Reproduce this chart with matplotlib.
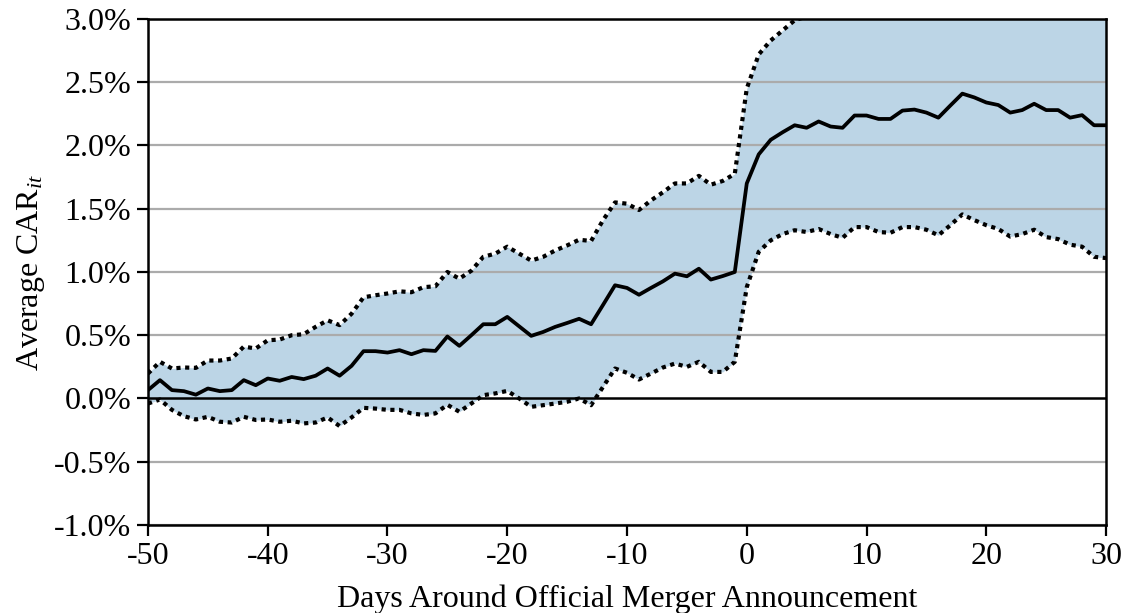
import numpy as np
import matplotlib.pyplot as plt
from matplotlib.ticker import FuncFormatter

plt.rcParams['font.family'] = ['Liberation Serif', 'DejaVu Serif']
plt.rcParams['mathtext.fontset'] = 'custom'
plt.rcParams['mathtext.rm'] = 'Liberation Serif'
plt.rcParams['mathtext.it'] = 'Liberation Serif:italic'
plt.rcParams['axes.unicode_minus'] = False

# Event window
days = list(range(-50, 31))

# Average CAR (%)
car_mean = [
    0.066, 0.145, 0.066, 0.058, 0.03, 0.079, 0.058, 0.066, 0.145, 0.105,
    0.158, 0.14, 0.17, 0.153, 0.18, 0.237, 0.18, 0.258, 0.374, 0.374,
    0.363, 0.382, 0.35, 0.382, 0.376, 0.49, 0.416, 0.5, 0.587, 0.587,
    0.645, 0.57, 0.495, 0.526, 0.566, 0.597, 0.63, 0.587, 0.74, 0.895,
    0.874, 0.82, 0.874, 0.926, 0.987, 0.966, 1.026, 0.94, 0.968, 1.0,
    1.70, 1.93, 2.045, 2.105, 2.16, 2.14, 2.19, 2.15, 2.14, 2.237,
    2.237, 2.21, 2.21, 2.276, 2.284, 2.26, 2.22, 2.316, 2.41, 2.38,
    2.34, 2.32, 2.26, 2.28, 2.33, 2.28, 2.28, 2.22, 2.24, 2.16,
    2.16,
]

# Upper confidence bound (%)
car_upper = [
    0.197, 0.29, 0.237, 0.245, 0.242, 0.30, 0.30, 0.316, 0.41, 0.395,
    0.46, 0.466, 0.50, 0.508, 0.566, 0.618, 0.58, 0.67, 0.80, 0.816,
    0.83, 0.847, 0.84, 0.88, 0.887, 1.0, 0.947, 1.01, 1.12, 1.145,
    1.20, 1.145, 1.09, 1.12, 1.17, 1.21, 1.255, 1.245, 1.41, 1.55,
    1.54, 1.49, 1.566, 1.63, 1.70, 1.70, 1.76, 1.69, 1.72, 1.776,
    2.45, 2.72, 2.83, 2.91, 2.99, 3.02, 3.04, 3.01, 3.02, 3.12,
    3.12, 3.10, 3.11, 3.20, 3.21, 3.19, 3.15, 3.26, 3.37, 3.35,
    3.31, 3.30, 3.24, 3.26, 3.33, 3.28, 3.30, 3.22, 3.28, 3.20,
    3.21,
]

# Lower confidence bound (%)
car_lower = [
    -0.04, -0.008, -0.09, -0.14, -0.166, -0.145, -0.184, -0.19, -0.145, -0.17,
    -0.166, -0.184, -0.176, -0.197, -0.19, -0.15, -0.218, -0.15, -0.074, -0.08,
    -0.09, -0.09, -0.118, -0.13, -0.118, -0.05, -0.105, -0.04, 0.026, 0.04,
    0.06, 0.0, -0.066, -0.053, -0.04, -0.026, 0.0, -0.053, 0.092, 0.237,
    0.203, 0.15, 0.197, 0.245, 0.276, 0.25, 0.29, 0.21, 0.21, 0.29,
    0.88, 1.16, 1.25, 1.30, 1.33, 1.316, 1.34, 1.30, 1.27, 1.355,
    1.355, 1.316, 1.31, 1.355, 1.355, 1.334, 1.29, 1.37, 1.455, 1.41,
    1.37, 1.34, 1.28, 1.30, 1.334, 1.276, 1.26, 1.216, 1.20, 1.12,
    1.11,
]

fig = plt.figure(figsize=(11.27, 6.13), dpi=100)
ax = fig.add_axes([0.1313, 0.1436, 0.8501, 0.8254])

ax.fill_between(days, car_lower, car_upper, color='#bcd5e6', lw=0, zorder=1)
ax.plot(days, car_upper, color='black', ls=(0, (1, 1.1)), lw=3.0, zorder=4)
ax.plot(days, car_lower, color='black', ls=(0, (1, 1.1)), lw=3.0, zorder=4)
ax.plot(days, car_mean, color='black', lw=2.7, zorder=5)

# horizontal grid, zero line in black
for yv in np.arange(-1.0, 3.01, 0.5):
    if abs(yv) < 1e-9:
        ax.axhline(0, color='black', lw=1.8, zorder=3)
    else:
        ax.axhline(yv, color='#ababab', lw=1.6, zorder=2)

ax.set_xlim(-50, 30)
ax.set_ylim(-1.0, 3.0)
ax.set_xticks(range(-50, 31, 10))
ax.set_yticks(np.arange(-1.0, 3.01, 0.5))
ax.yaxis.set_major_formatter(FuncFormatter(lambda v, p: f'{v:.1f}%'))

for s in ax.spines.values():
    s.set_linewidth(1.8)
    s.set_zorder(6)
ax.tick_params(direction='out', length=8, width=1.6, labelsize=23, pad=4)

ax.set_xlabel('Days Around Official Merger Announcement', fontsize=23, labelpad=10)
ax.set_ylabel('Average CAR$_{it}$', fontsize=23, labelpad=5)

fig.savefig('out.png', dpi=100)
